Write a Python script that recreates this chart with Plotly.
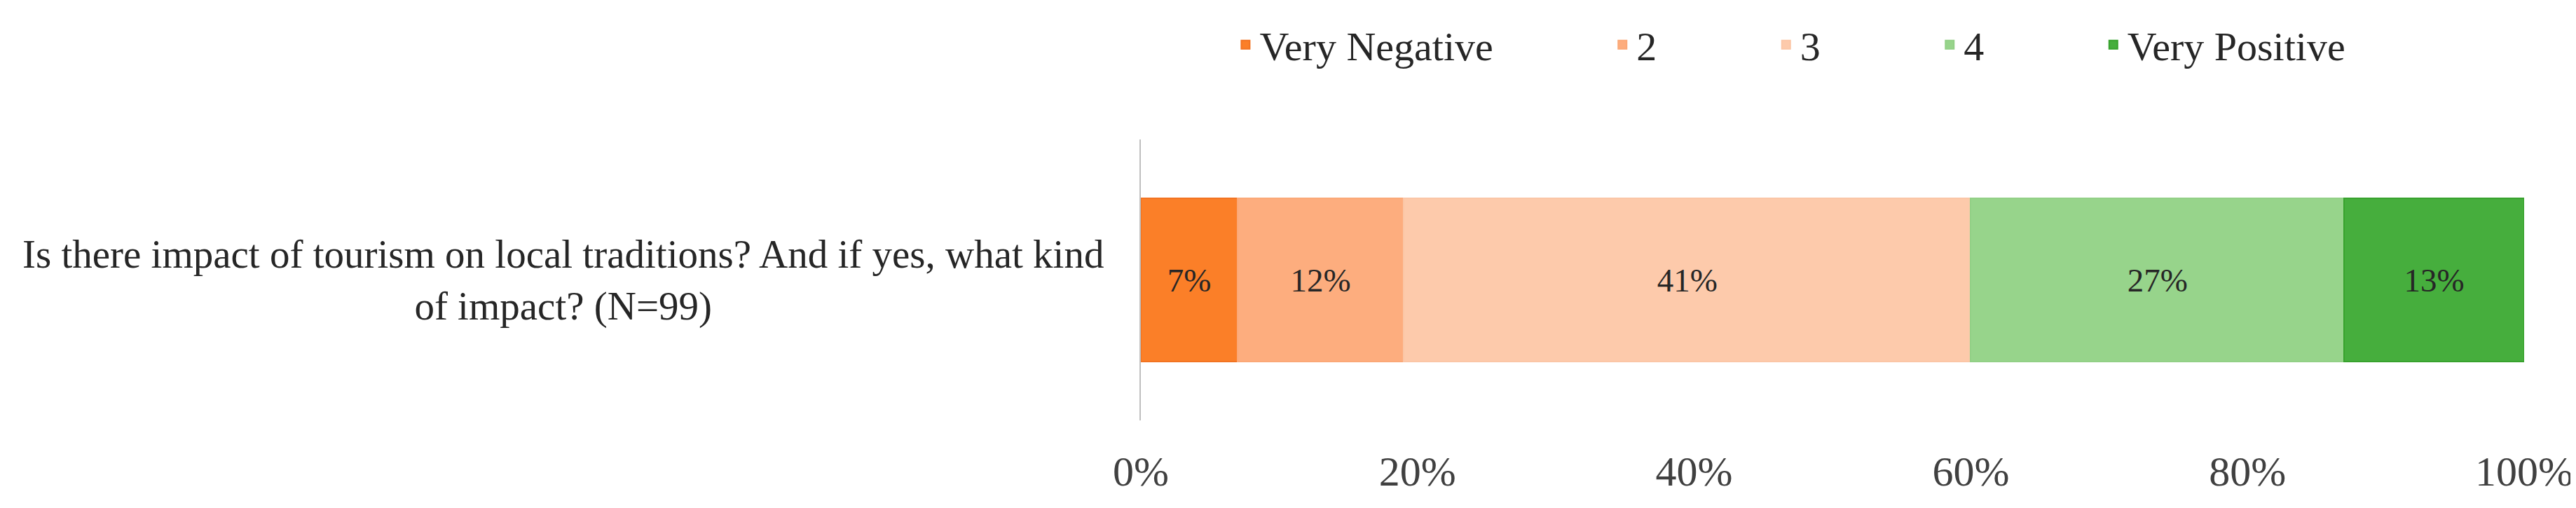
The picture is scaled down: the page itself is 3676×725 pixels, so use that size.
import plotly.graph_objects as go

question = "Is there impact of tourism on local traditions? And if yes, what kind<br>of impact? (N=99)"
series_names = ["Very Negative", "2", "3", "4", "Very Positive"]
values = [7, 12, 41, 27, 13]
colors = ["#FB7F28", "#FDAD7E", "#FDCAAB", "#97D48B", "#46AE3D"]
edges = ["#F27321", "#FBA877", "#FBC6A6", "#92D086", "#37A22D"]
tick_vals = [0, 20, 40, 60, 80, 100]
tick_text = ["0%", "20%", "40%", "60%", "80%", "100%"]

FONT = "Liberation Serif"
pad = "\u00a0" * 11

fig = go.Figure()
for name, v, c, e in zip(series_names, values, colors, edges):
    fig.add_trace(go.Bar(
        y=["q"], x=[v], name=name + pad, orientation="h",
        marker=dict(color=c, line=dict(color=e, width=2)),
        text=[f"{v}%"], textposition="inside", insidetextanchor="middle",
        textfont=dict(family=FONT, size=47, color="#262626"),
        hoverinfo="skip",
    ))

W, H = 3676, 725
L, R, T, B = 1620, 73, 190, 133
pw = W - L - R

fig.update_layout(
    width=W, height=H, barmode="stack", bargap=0.42,
    margin=dict(l=L, r=R, t=T, b=B),
    paper_bgcolor="white", plot_bgcolor="white",
    font=dict(family=FONT, size=50, color="#262626"),
    showlegend=True,
    legend=dict(orientation="h", x=(1750 - L) / pw, xanchor="left",
                y=1 + (190 - 10) / (H - T - B), yanchor="top",
                font=dict(family=FONT, size=58, color="#262626"),
                itemwidth=30, traceorder="normal"),
    xaxis=dict(range=[0, 100], tickvals=tick_vals, ticktext=tick_text,
               showgrid=False, zeroline=False, showline=False,
               ticks="", ticklabelstandoff=32,
               tickfont=dict(family=FONT, size=60, color="#404040")),
    yaxis=dict(showticklabels=False, showgrid=False, zeroline=False,
               showline=True, linecolor="#BFBFBF", linewidth=2, ticks=""),
)
fig.add_annotation(
    text=question, xref="paper", yref="paper",
    x=(792 - L) / pw, y=0.5, xanchor="center", yanchor="middle",
    showarrow=False, align="center",
    font=dict(family=FONT, size=57, color="#262626"),
)
fig.write_html("out.html")
